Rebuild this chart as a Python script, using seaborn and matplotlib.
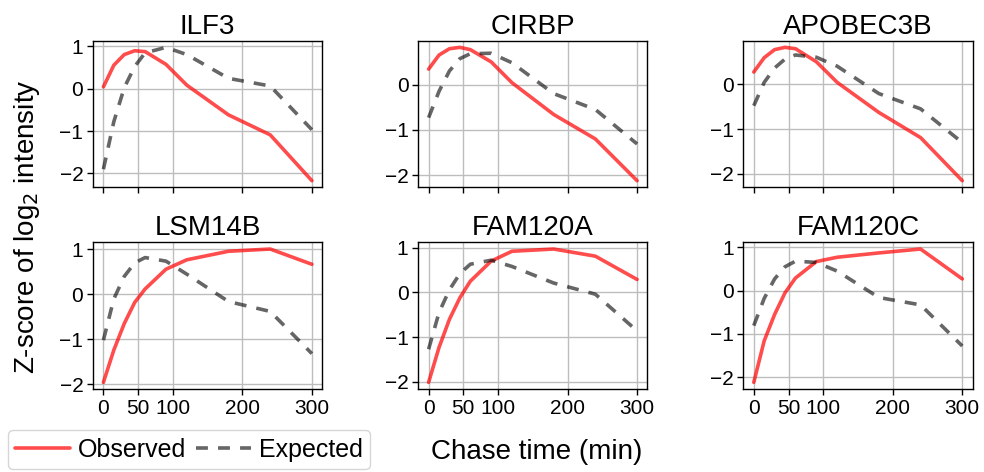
import numpy as np
import pandas as pd
import matplotlib
matplotlib.use("Agg")
import matplotlib.pyplot as plt
from matplotlib.ticker import MultipleLocator
import seaborn as sns

# Chase time points (min)
times = [0, 15, 30, 45, 60, 90, 120, 180, 240, 300]

genes = ["ILF3", "CIRBP", "APOBEC3B", "LSM14B", "FAM120A", "FAM120C"]

# Z-scored log2 intensities per gene
ilf3_obs = [0.04, 0.55, 0.80, 0.89, 0.87, 0.57, 0.08, -0.62, -1.09, -2.17]
ilf3_exp = [-1.90, -0.78, 0.02, 0.52, 0.84, 0.97, 0.80, 0.24, 0.06, -0.97]

cirbp_obs = [0.34, 0.65, 0.79, 0.82, 0.77, 0.50, 0.04, -0.66, -1.20, -2.12]
cirbp_exp = [-0.73, -0.15, 0.30, 0.57, 0.68, 0.69, 0.48, -0.20, -0.55, -1.31]

apobec3b_obs = [0.27, 0.59, 0.77, 0.82, 0.79, 0.50, 0.04, -0.63, -1.19, -2.15]
apobec3b_exp = [-0.48, 0.04, 0.36, 0.56, 0.65, 0.60, 0.40, -0.21, -0.55, -1.30]

lsm14b_obs = [-1.96, -1.24, -0.65, -0.18, 0.12, 0.56, 0.77, 0.96, 1.01, 0.67]
lsm14b_exp = [-1.02, -0.10, 0.40, 0.70, 0.82, 0.74, 0.45, -0.16, -0.38, -1.32]

fam120a_obs = [-2.01, -1.23, -0.60, -0.12, 0.25, 0.70, 0.92, 0.97, 0.81, 0.29]
fam120a_exp = [-1.27, -0.45, 0.06, 0.42, 0.63, 0.72, 0.58, 0.21, -0.04, -0.86]

fam120c_obs = [-2.12, -1.16, -0.55, -0.05, 0.29, 0.67, 0.77, 0.87, 0.96, 0.27]
fam120c_exp = [-0.81, -0.18, 0.27, 0.55, 0.68, 0.65, 0.45, -0.16, -0.33, -1.28]

observed = [ilf3_obs, cirbp_obs, apobec3b_obs, lsm14b_obs, fam120a_obs, fam120c_obs]
expected = [ilf3_exp, cirbp_exp, apobec3b_exp, lsm14b_exp, fam120a_exp, fam120c_exp]

xticks = [0, 50, 100, 200, 300]

rows = []
for g, o, e in zip(genes, observed, expected):
    for t, vo, ve in zip(times, o, e):
        rows.append({"gene": g, "time": t, "value": vo, "kind": "Observed"})
        rows.append({"gene": g, "time": t, "value": ve, "kind": "Expected"})
df = pd.DataFrame(rows)

sns.set_style("ticks")
plt.rcParams["font.family"] = ["Liberation Sans", "DejaVu Sans"]
plt.rcParams["axes.unicode_minus"] = True
plt.rcParams["text.color"] = "black"
plt.rcParams["axes.labelcolor"] = "black"
plt.rcParams["xtick.color"] = "black"
plt.rcParams["ytick.color"] = "black"

fig, axes = plt.subplots(2, 3, figsize=(9.84, 4.72), dpi=100, sharex=True)
fig.subplots_adjust(left=0.0945, right=0.9885, top=0.9138, bottom=0.1758,
                    wspace=0.418, hspace=0.375)

LW = 2.6
DASH = (3.3, 2.8)
palette = {"Observed": "red", "Expected": "black"}
dashes = {"Observed": "", "Expected": DASH}

for ax, g in zip(axes.flat, genes):
    sub = df[df["gene"] == g]
    sns.lineplot(data=sub, x="time", y="value", hue="kind", style="kind",
                 palette=palette, dashes=dashes, hue_order=["Observed", "Expected"],
                 style_order=["Observed", "Expected"], linewidth=LW,
                 legend=False, ax=ax)
    for line in ax.get_lines():
        line.set_alpha(0.7 if line.get_color() == "red" else 0.6)
    ax.set_title(g, fontsize=20, pad=5, color="black")
    ax.set_xlabel("")
    ax.set_ylabel("")
    ax.set_xticks(xticks)
    ax.yaxis.set_major_locator(MultipleLocator(1))
    ax.grid(True, color="#bdbdbd", linewidth=1.0)
    ax.set_axisbelow(True)
    ax.tick_params(labelsize=15, length=4, width=1, pad=3, colors="black")
    for s in ax.spines.values():
        s.set_color("black")
        s.set_linewidth(1.0)

for ax in axes[0]:
    ax.tick_params(labelbottom=False)

fig.text(0.027, 0.52, r"Z-score of log$_2$ intensity", rotation=90,
         ha="center", va="center", fontsize=20)
fig.text(0.545, 0.043, "Chase time (min)", ha="center", va="center", fontsize=20)

handles = [
    plt.Line2D([], [], color="red", alpha=0.7, linewidth=LW),
    plt.Line2D([], [], color="black", alpha=0.6, linewidth=LW, dashes=DASH),
]
fig.legend(handles, ["Observed", "Expected"], loc="center",
           bbox_to_anchor=(0.192, 0.047), ncol=2, fontsize=18,
           handlelength=2.2, handletextpad=0.3, columnspacing=0.4,
           frameon=True, fancybox=True, edgecolor="#cccccc", borderpad=0.3)

fig.savefig("out.png", dpi=100)
